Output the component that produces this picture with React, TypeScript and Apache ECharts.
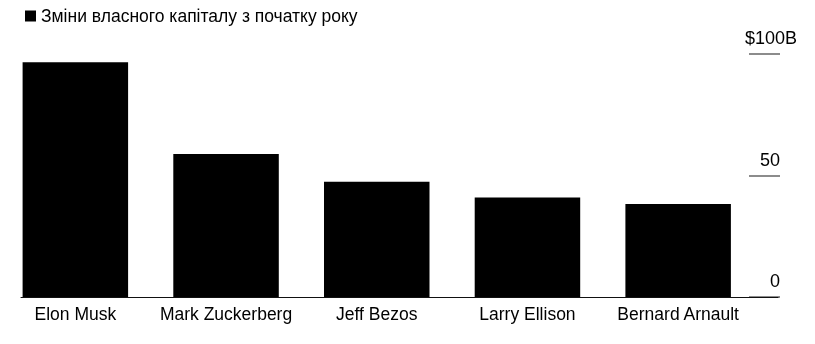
import React, { useEffect, useRef } from "react";
import * as echarts from "echarts";

const seriesName = "Зміни власного капіталу з початку року";
const categories = ["Elon Musk", "Mark Zuckerberg", "Jeff Bezos", "Larry Ellison", "Bernard Arnault"];
const values = [96.6, 58.8, 47.4, 40.9, 38.3];
const yTicks = [0, 50, 100];

const FONT = "'Liberation Sans', Arial, Helvetica, sans-serif";

export default function App() {
  const ref = useRef<HTMLDivElement>(null);
  useEffect(() => {
    if (!ref.current) return;
    const chart = echarts.init(ref.current, undefined, { renderer: "svg" });
    chart.setOption({
      animation: false,
      textStyle: { fontFamily: FONT, color: "#000" },
      legend: {
        data: [seriesName],
        left: 20,
        top: 2,
        icon: "rect",
        itemWidth: 11,
        itemHeight: 11,
        itemGap: 6,
        textStyle: { fontSize: 17.5, color: "#000", fontFamily: FONT },
        selectedMode: false,
      },
      grid: [
        { left: -1.5, width: 755, top: 54, bottom: 47, containLabel: false },
        { left: 21, right: 37, top: 54, bottom: 47, containLabel: false },
      ],
      xAxis: [
        {
          type: "category",
          gridIndex: 0,
          data: categories,
          axisLine: { show: false },
          axisTick: { show: false },
          axisLabel: { interval: 0, fontSize: 17.5, color: "#000", margin: 8, fontFamily: FONT },
        },
        {
          type: "value",
          gridIndex: 1,
          z: 5,
          min: 0,
          max: 1,
          axisLine: { show: true, onZero: false, lineStyle: { color: "#111", width: 1 } },
          axisTick: { show: false },
          axisLabel: { show: false },
          splitLine: { show: false },
        },
      ],
      yAxis: [
        {
          type: "value",
          gridIndex: 0,
          min: 0,
          max: 100,
          show: false,
        },
        {
          type: "value",
          gridIndex: 1,
          position: "right",
          offset: 2,
          z: 1,
          min: yTicks[0],
          max: yTicks[yTicks.length - 1],
          interval: 50,
          axisLine: { show: false, onZero: false },
          splitLine: { show: false },
          axisTick: { show: true, inside: true, length: 31, lineStyle: { color: "#666", width: 1.5 } },
          axisLabel: {
            inside: true,
            margin: -17,
            verticalAlign: "bottom",
            fontSize: 18,
            color: "#000",
            fontFamily: FONT,
            formatter: (v: number) => (v === 100 ? "{w|$100B}" : "{n|" + v + "}"),
            rich: {
              w: { fontSize: 18, color: "#000", fontFamily: FONT, padding: [0, 0, 7, 0] },
              n: { fontSize: 18, color: "#000", fontFamily: FONT, padding: [0, 17, 7, 0] },
            },
          },
        },
      ],
      series: [
        {
          name: seriesName,
          type: "bar",
          xAxisIndex: 0,
          yAxisIndex: 0,
          data: values,
          barWidth: 105.5,
          itemStyle: { color: "#000" },
        },
        {
          type: "line",
          xAxisIndex: 1,
          yAxisIndex: 1,
          data: [],
        },
      ],
    });
    return () => chart.dispose();
  }, []);
  return <div ref={ref} style={{ position: "fixed", left: 0, top: 0, width: 815, height: 344 }} />;
}
